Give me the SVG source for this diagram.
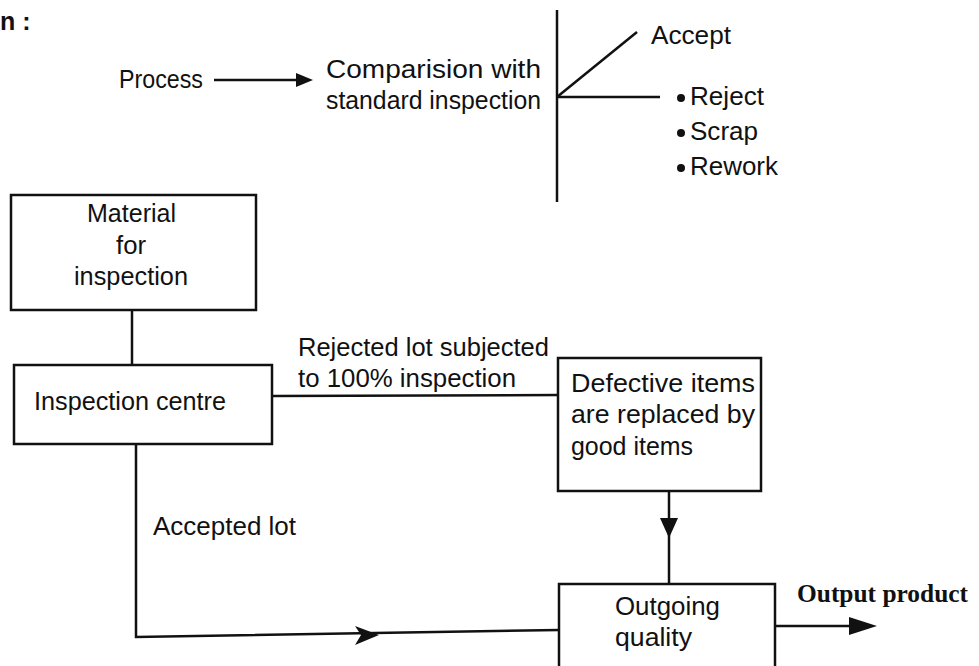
<svg xmlns="http://www.w3.org/2000/svg" width="979" height="666" viewBox="0 0 979 666">
<style>
.t{font-family:"Liberation Sans",Arial,sans-serif;font-size:25px;fill:#111}
.b{fill:#fff;stroke:#111;stroke-width:2.5}
.c{fill:none;stroke:#111;stroke-width:2.5}
.h{fill:#111}
.o{font-family:"Liberation Serif","Times New Roman",serif;font-size:25px;font-weight:bold;fill:#111}
</style>
<rect width="979" height="666" fill="#fff"/>
<text class="t" x="0" y="30" font-weight="bold" font-size="22">n :</text>
<g id="connectors">
<line class="c" x1="214" y1="80" x2="300" y2="80"/>
<polygon class="h" points="313,80 296,73 296,87"/>
<line class="c" x1="557" y1="10" x2="557" y2="202"/>
<line class="c" x1="557" y1="97" x2="637" y2="32"/>
<line class="c" x1="557" y1="97" x2="660" y2="97"/>
<line class="c" x1="132" y1="310" x2="132" y2="365"/>
<line class="c" x1="272" y1="396" x2="558" y2="395"/>
<polyline class="c" points="136,444 136,637 559,630"/>
<polygon class="h" points="379,635 355,626 361,635 355,645"/>
<line class="c" x1="669" y1="491" x2="669" y2="583"/>
<polygon class="h" points="669,538 660,518 678,518"/>
<line class="c" x1="775" y1="626" x2="855" y2="626"/>
<polygon class="h" points="877,626 849,617 849,635"/>
</g>
<g id="process"><text class="t" x="119" y="88" textLength="84" lengthAdjust="spacingAndGlyphs">Process</text></g>
<g id="comparision">
<text class="t" x="326" y="78" textLength="215" lengthAdjust="spacingAndGlyphs">Comparision with</text>
<text class="t" x="326" y="109" textLength="215" lengthAdjust="spacingAndGlyphs">standard inspection</text>
</g>
<g id="accept"><text class="t" x="651" y="44" textLength="80" lengthAdjust="spacingAndGlyphs">Accept</text></g>
<g id="outcomes">
<circle class="h" cx="681" cy="98" r="4"/>
<text class="t" x="690" y="105" textLength="74" lengthAdjust="spacingAndGlyphs">Reject</text>
<circle class="h" cx="681" cy="133" r="4"/>
<text class="t" x="690" y="140" textLength="68" lengthAdjust="spacingAndGlyphs">Scrap</text>
<circle class="h" cx="681" cy="168" r="4"/>
<text class="t" x="690" y="175" textLength="88" lengthAdjust="spacingAndGlyphs">Rework</text>
</g>
<g id="material">
<rect class="b" x="11" y="195" width="245" height="115"/>
<text class="t" x="87" y="222" textLength="89" lengthAdjust="spacingAndGlyphs">Material</text>
<text class="t" x="116" y="254" textLength="30" lengthAdjust="spacingAndGlyphs">for</text>
<text class="t" x="74" y="285" textLength="114" lengthAdjust="spacingAndGlyphs">inspection</text>
</g>
<g id="inspection-centre">
<rect class="b" x="14" y="365" width="258" height="79"/>
<text class="t" x="34" y="410" textLength="192" lengthAdjust="spacingAndGlyphs">Inspection centre</text>
</g>
<g id="rejected-label">
<text class="t" x="298" y="356" textLength="251" lengthAdjust="spacingAndGlyphs">Rejected lot subjected</text>
<text class="t" x="298" y="387" textLength="218" lengthAdjust="spacingAndGlyphs">to 100% inspection</text>
</g>
<g id="defective">
<rect class="b" x="558" y="358" width="203" height="133"/>
<text class="t" x="571" y="392" textLength="184" lengthAdjust="spacingAndGlyphs">Defective items</text>
<text class="t" x="571" y="423" textLength="184" lengthAdjust="spacingAndGlyphs">are replaced by</text>
<text class="t" x="571" y="455" textLength="122" lengthAdjust="spacingAndGlyphs">good items</text>
</g>
<g id="accepted-label"><text class="t" x="153" y="535" textLength="143" lengthAdjust="spacingAndGlyphs">Accepted lot</text></g>
<g id="outgoing">
<rect class="b" x="559" y="584" width="216" height="95"/>
<text class="t" x="615" y="615" textLength="105" lengthAdjust="spacingAndGlyphs">Outgoing</text>
<text class="t" x="615" y="646" textLength="77" lengthAdjust="spacingAndGlyphs">quality</text>
</g>
<g id="output-label"><text class="o" x="797" y="602" textLength="171" lengthAdjust="spacingAndGlyphs">Output product</text></g>
</svg>
